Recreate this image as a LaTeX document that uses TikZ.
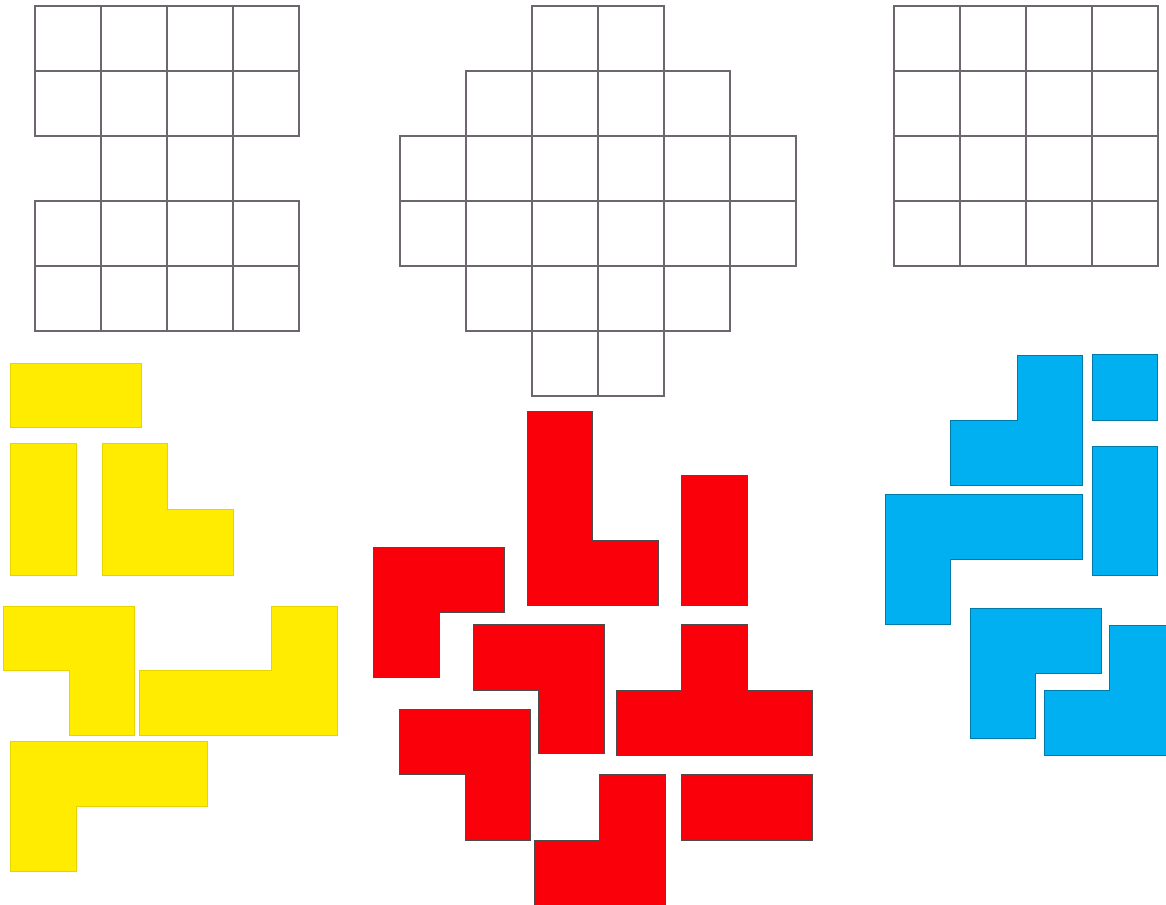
\documentclass[tikz,border=0pt]{standalone}
\usepackage{tikz}
\usepackage{xcolor}
\definecolor{gridgray}{RGB}{110,102,110}
\definecolor{piezaamarilla}{RGB}{255,236,0}
\definecolor{piezaroja}{RGB}{250,0,10}
\definecolor{piezaazul}{RGB}{0,176,240}
\tikzstyle{gridline} = [draw=gridgray, line width=1.4pt]
\tikzstyle{amarilla} = [fill=piezaamarilla, draw=piezaamarilla!90!black, line width=0.3pt]
\tikzstyle{roja} = [fill=piezaroja, draw=black!70, line width=0.5pt]
\tikzstyle{azul} = [fill=piezaazul, draw=piezaazul!70!black, line width=0.4pt]

\begin{document}
\begin{tikzpicture}[x=0.025cm, y=-0.025cm]
        % Marco (tamano de la figura)
        \clip (0,0) rectangle (1166,904);
        \fill[white] (0,0) rectangle (1166,904);

        % Tablero izquierdo (4 x 5 con hueco)
        \foreach \row/\first/\last in {0/0/3, 1/0/3, 2/1/2, 3/0/3, 4/0/3}
            \foreach \col in {\first,...,\last}
                \draw[gridline] (35+66*\col, 6+65*\row) rectangle ++(66,65);

        % Tablero central (forma de cruz)
        \foreach \row/\first/\last in {0/2/3, 1/1/4, 2/0/5, 3/0/5, 4/1/4, 5/2/3}
            \foreach \col in {\first,...,\last}
                \draw[gridline] (400+66*\col, 6+65*\row) rectangle ++(66,65);

        % Tablero derecho (4 x 4)
        \foreach \row in {0,...,3}
            \foreach \col in {0,...,3}
                \draw[gridline] (894+66*\col, 6+65*\row) rectangle ++(66,65);

        % Piezas amarillas
        \draw[amarilla] (10,363) rectangle (141,427);
        \draw[amarilla] (10,443) rectangle (76,575);
        \draw[amarilla] (102,443) -- (167,443) -- (167,509) -- (233,509) -- (233,575) -- (102,575) -- cycle;
        \draw[amarilla] (3,606) -- (134,606) -- (134,735) -- (69,735) -- (69,670) -- (3,670) -- cycle;
        \draw[amarilla] (271,606) -- (337,606) -- (337,735) -- (139,735) -- (139,670) -- (271,670) -- cycle;
        \draw[amarilla] (10,741) -- (207,741) -- (207,806) -- (76,806) -- (76,871) -- (10,871) -- cycle;

        % Piezas rojas
        \draw[roja] (527,411) -- (592,411) -- (592,540) -- (658,540) -- (658,605) -- (527,605) -- cycle;
        \draw[roja] (681,475) rectangle (747,605);
        \draw[roja] (373,547) -- (504,547) -- (504,612) -- (439,612) -- (439,677) -- (373,677) -- cycle;
        \draw[roja] (473,624) -- (604,624) -- (604,753) -- (538,753) -- (538,690) -- (473,690) -- cycle;
        \draw[roja] (681,624) -- (747,624) -- (747,690) -- (812,690) -- (812,755) -- (616,755) -- (616,690) -- (681,690) -- cycle;
        \draw[roja] (399,709) -- (530,709) -- (530,840) -- (465,840) -- (465,774) -- (399,774) -- cycle;
        \draw[roja] (599,774) -- (665,774) -- (665,910) -- (534,910) -- (534,840) -- (599,840) -- cycle;
        \draw[roja] (681,774) rectangle (812,840);

        % Piezas azules
        \draw[azul] (1017,355) -- (1082,355) -- (1082,485) -- (950,485) -- (950,420) -- (1017,420) -- cycle;
        \draw[azul] (1092,354) rectangle (1157,420);
        \draw[azul] (1092,446) rectangle (1157,575);
        \draw[azul] (885,494) -- (1082,494) -- (1082,559) -- (950,559) -- (950,624) -- (885,624) -- cycle;
        \draw[azul] (970,608) -- (1101,608) -- (1101,673) -- (1035,673) -- (1035,738) -- (970,738) -- cycle;
        \draw[azul] (1109,625) -- (1175,625) -- (1175,755) -- (1044,755) -- (1044,690) -- (1109,690) -- cycle;

    \end{tikzpicture}
\end{document}
